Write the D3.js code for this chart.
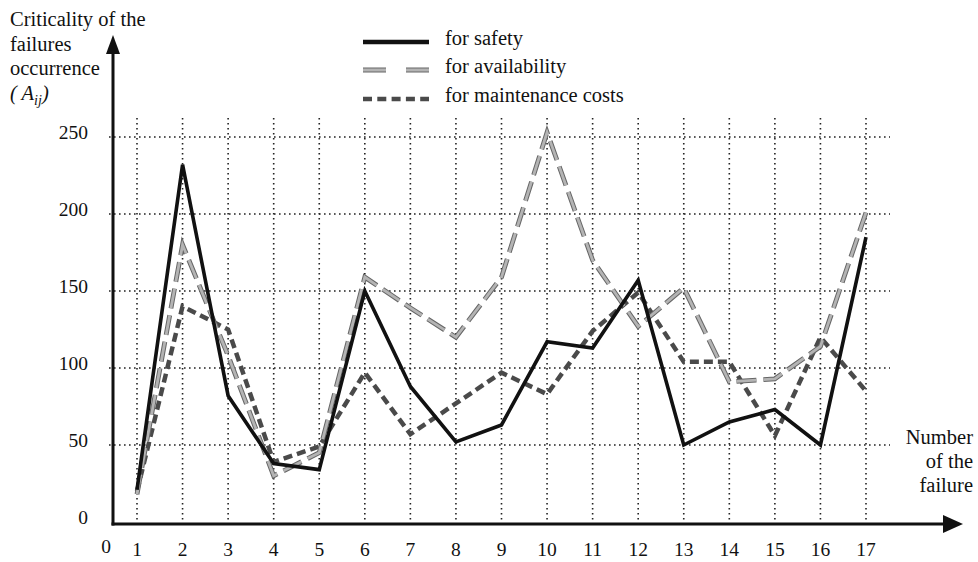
<!DOCTYPE html>
<html>
<head>
<meta charset="utf-8">
<script src="https://cdn.jsdelivr.net/npm/d3@7"></script>
<style>
  body { margin: 0; background: #fff; }
  svg { display: block; }
  text { font-family: "Liberation Serif", "Times New Roman", serif; fill: #111; }
</style>
</head>
<body>
<svg id="chart" width="978" height="562"></svg>
<script>
// ---- data ----
const failures = [1,2,3,4,5,6,7,8,9,10,11,12,13,14,15,16,17];
const safety       = [21, 232, 82, 38, 34, 150, 88, 52, 63, 117, 113, 157, 50, 65, 73, 50, 185];
const availability = [18, 180, 108, 30, 45, 159, 139, 120, 159, 253, 170, 127, 152, 91, 93, 114, 201];
const maintenance  = [20, 140, 125, 39, 49, 97, 57, 77, 97, 83, 124, 149, 104, 104, 56, 120, 85];
const yTicks = [0, 50, 100, 150, 200, 250];
const seriesNames = ["for safety", "for availability", "for maintenance costs"];

// ---- layout ----
const svg = d3.select("#chart");
const x = d3.scaleLinear().domain([1, 17]).range([137, 866]);
const y = d3.scaleLinear().domain([0, 250]).range([522, 137]);
const axisX = 113, axisY = 524;
const numSize = 19.5, txtSize = 20.5;

// grid
const grid = svg.append("g");
grid.selectAll("line.h").data(yTicks.filter(d => d > 0)).join("line")
  .attr("x1", axisX - 4).attr("x2", 890)
  .attr("y1", d => y(d)).attr("y2", d => y(d))
  .attr("stroke", "#222").attr("stroke-width", 1.6)
  .attr("stroke-dasharray", "1.6,3.4");
grid.selectAll("line.v").data(failures).join("line")
  .attr("x1", d => x(d)).attr("x2", d => x(d))
  .attr("y1", 118).attr("y2", axisY)
  .attr("stroke", "#222").attr("stroke-width", 1.6)
  .attr("stroke-dasharray", "1.6,3.4");

// axes
svg.append("line").attr("x1", axisX).attr("x2", axisX).attr("y1", axisY + 1.5).attr("y2", 50)
  .attr("stroke", "#111").attr("stroke-width", 3);
svg.append("path").attr("d", `M${axisX},35 L${axisX-7},54 L${axisX+7},54 Z`).attr("fill", "#111");
svg.append("line").attr("x1", axisX - 1.5).attr("x2", 948).attr("y1", axisY).attr("y2", axisY)
  .attr("stroke", "#111").attr("stroke-width", 3);
svg.append("path").attr("d", `M963,${axisY} L943,${axisY-9} L943,${axisY+9} Z`).attr("fill", "#111");

// y tick labels
svg.append("g").selectAll("text").data(yTicks).join("text")
  .attr("x", 88).attr("y", d => y(d) - 5)
  .attr("dy", "0.35em").attr("text-anchor", "end")
  .attr("font-size", numSize).text(d => d);

// x tick labels
svg.append("g").selectAll("text").data(failures).join("text")
  .attr("x", d => x(d)).attr("y", 549).attr("dy", "0.35em")
  .attr("text-anchor", "middle").attr("font-size", numSize).text(d => d);
svg.append("text").attr("x", 106).attr("y", 546).attr("dy", "0.35em")
  .attr("text-anchor", "middle").attr("font-size", numSize).text("0");

// y axis title
const yt = svg.append("text").attr("font-size", txtSize);
["Criticality of the", "failures", "occurrence"].forEach((s, i) => {
  yt.append("tspan").attr("x", 10).attr("y", 26 + i * 24.5).text(s);
});
const aij = svg.append("text").attr("x", 10).attr("y", 99.5).attr("font-size", txtSize).attr("font-style", "italic");
aij.append("tspan").text("( A");
aij.append("tspan").attr("font-size", 14).attr("dy", 5).text("ij");
aij.append("tspan").attr("dy", -5).text(")");

// x axis title
const xt = svg.append("text").attr("font-size", txtSize).attr("text-anchor", "end");
["Number", "of the", "failure"].forEach((s, i) => {
  xt.append("tspan").attr("x", 973).attr("y", 444 + i * 24).text(s);
});

// lines
const line = d3.line().x((d, i) => x(failures[i])).y(d => y(d));
const g = svg.append("g").attr("fill", "none").attr("stroke-linejoin", "miter");

// maintenance (dark gray short dashes)
g.append("path").datum(maintenance).attr("d", line)
  .attr("stroke", "#4a4a4a").attr("stroke-width", 4.5).attr("stroke-dasharray", "9,5");
// availability (light gray long dashes with dark outline)
g.append("path").datum(availability).attr("d", line)
  .attr("stroke", "#666").attr("stroke-width", 4.8).attr("stroke-dasharray", "20,7");
g.append("path").datum(availability).attr("d", line)
  .attr("stroke", "#b4b4b4").attr("stroke-width", 2.8).attr("stroke-dasharray", "20,7");
// safety (black solid)
g.append("path").datum(safety).attr("d", line)
  .attr("stroke", "#111").attr("stroke-width", 3.6);

// legend
const leg = svg.append("g");
const ly = [42, 70, 99];
leg.append("line").attr("x1", 363).attr("x2", 429).attr("y1", ly[0]).attr("y2", ly[0])
  .attr("stroke", "#111").attr("stroke-width", 4.5);
leg.append("line").attr("x1", 363).attr("x2", 429).attr("y1", ly[1]).attr("y2", ly[1])
  .attr("stroke", "#666").attr("stroke-width", 4.8).attr("stroke-dasharray", "23,20");
leg.append("line").attr("x1", 363).attr("x2", 429).attr("y1", ly[1]).attr("y2", ly[1])
  .attr("stroke", "#b4b4b4").attr("stroke-width", 2.8).attr("stroke-dasharray", "23,20");
leg.append("line").attr("x1", 363).attr("x2", 429).attr("y1", ly[2]).attr("y2", ly[2])
  .attr("stroke", "#4a4a4a").attr("stroke-width", 4.5).attr("stroke-dasharray", "9,5.3");
leg.selectAll("text").data(seriesNames).join("text")
  .attr("x", 445).attr("y", (d, i) => ly[i] - 4).attr("dy", "0.35em")
  .attr("font-size", txtSize).text(d => d);
</script>
</body>
</html>
